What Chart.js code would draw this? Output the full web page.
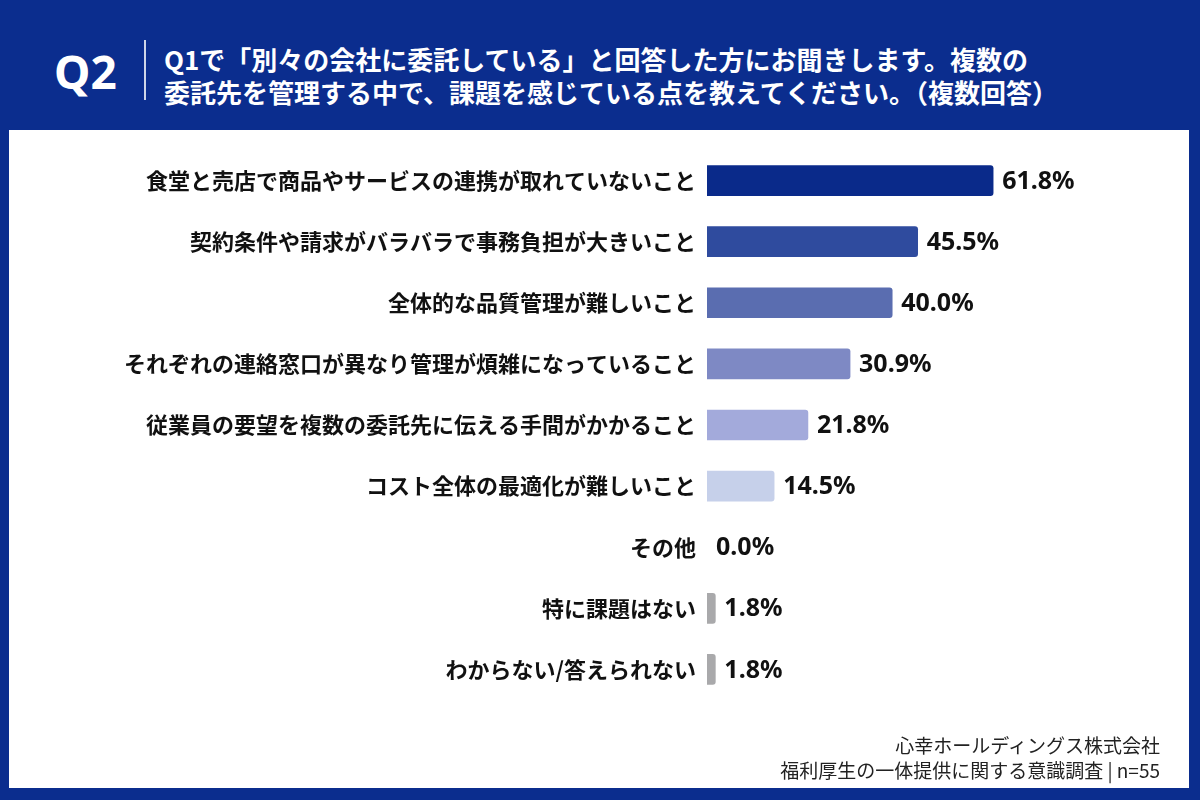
<!DOCTYPE html>
<html lang="ja">
<head>
<meta charset="utf-8">
<script src="https://cdn.jsdelivr.net/npm/chart.js@4/dist/chart.umd.min.js"></script>
<style>
  html, body { margin: 0; padding: 0; }
  body {
    width: 1200px; height: 800px; position: relative; overflow: hidden;
    background: #0b2d8e;
    font-family: "Noto Sans CJK JP", "Noto Sans", sans-serif;
  }
  .q { position: absolute; left: 54px; top: 41px; color: #fff; font: 700 46px "Noto Sans", "Noto Sans CJK JP", sans-serif; line-height: 60px; }
  .sep { position: absolute; left: 144px; top: 40px; width: 2px; height: 60px; background: rgba(255,255,255,0.8); }
  .title { position: absolute; left: 164px; top: 42px; color: #fff; font-weight: 700; font-size: 26px; line-height: 33px; }
  .panel { position: absolute; left: 9px; top: 130px; width: 1180px; height: 658px; background: #fff; }
  .panel canvas { position: absolute; left: 0; top: 0; }
  .foot { position: absolute; right: 29px; top: 602px; text-align: right; color: #222; font-size: 19px; line-height: 25px; }
</style>
</head>
<body>
<div class="q">Q2</div>
<div class="sep"></div>
<div class="title">Q1で「別々の会社に委託している」と回答した方にお聞きします。複数の<br>委託先を管理する中で、課題を感じている点を教えてください。（複数回答）</div>
<div class="panel">
  <canvas id="chart" width="1180" height="658"></canvas>
  <div class="foot">心幸ホールディングス株式会社<br>福利厚生の一体提供に関する意識調査 | n=55</div>
</div>
<script>
// ===== DATA =====
const categories = [
  '食堂と売店で商品やサービスの連携が取れていないこと',
  '契約条件や請求がバラバラで事務負担が大きいこと',
  '全体的な品質管理が難しいこと',
  'それぞれの連絡窓口が異なり管理が煩雑になっていること',
  '従業員の要望を複数の委託先に伝える手間がかかること',
  'コスト全体の最適化が難しいこと',
  'その他',
  '特に課題はない',
  'わからない/答えられない'
];
const values = [61.8, 45.5, 40.0, 30.9, 21.8, 14.5, 0.0, 1.8, 1.8];
const barColors = ['#0a2a8a', '#2f4b9e', '#5a6db0', '#7e89c4', '#a3aadb', '#c6d0ea', 'rgba(0,0,0,0)', '#a9a9ab', '#a9a9ab'];

// ===== VALUE LABELS =====
const valueLabels = {
  id: 'valueLabels',
  afterDatasetsDraw(chart) {
    const ctx = chart.ctx;
    const meta = chart.getDatasetMeta(0);
    ctx.save();
    ctx.fillStyle = '#111';
    ctx.font = '700 25px "Noto Sans", sans-serif';
    ctx.textAlign = 'left';
    ctx.textBaseline = 'middle';
    meta.data.forEach((bar, i) => {
      ctx.fillText(values[i].toFixed(1) + '%', bar.x + 9, bar.y + 1);
    });
    ctx.restore();
  }
};

new Chart(document.getElementById('chart'), {
  type: 'bar',
  data: {
    labels: categories,
    datasets: [{
      data: values,
      backgroundColor: barColors,
      barThickness: 30,
      borderRadius: 3,
      borderSkipped: 'start'
    }]
  },
  options: {
    indexAxis: 'y',
    responsive: false,
    animation: false,
    layout: { padding: { top: 20, bottom: 88, left: 0, right: 19 } },
    plugins: { legend: { display: false }, tooltip: { enabled: false } },
    scales: {
      x: { display: false, min: 0, max: 100 },
      y: {
        afterFit: (scale) => {
          scale.width = 698;
          scale.paddingTop = 0;
          scale.paddingBottom = 0;
        },
        grid: { display: false, drawTicks: false },
        border: { display: false },
        ticks: {
          padding: 11,
          color: '#111',
          font: { family: '"Noto Sans CJK JP", sans-serif', size: 22, weight: '700' }
        }
      }
    }
  },
  plugins: [valueLabels]
});
</script>
</body>
</html>
